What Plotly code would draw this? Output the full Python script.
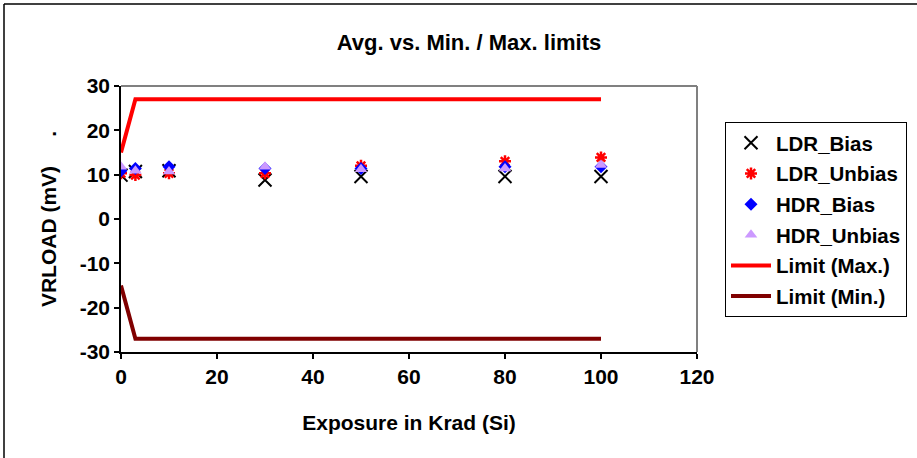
import plotly.graph_objects as go

exposure = [0, 3, 10, 30, 50, 80, 100]
ldr_bias = [9.9, 10.7, 10.9, 8.8, 9.6, 9.6, 9.6]
ldr_unbias = [10.3, 9.9, 10.3, 10.3, 12.0, 13.0, 13.9]
hdr_bias = [10.9, 11.4, 11.8, 11.4, 11.4, 11.8, 11.8]
hdr_unbias = [11.8, 10.9, 10.7, 11.8, 11.2, 11.4, 12.2]

limit_x = [0, 3, 10, 30, 50, 80, 100]
limit_max = [15, 27, 27, 27, 27, 27, 27]
limit_min = [-15, -27, -27, -27, -27, -27, -27]

x_ticks = [0, 20, 40, 60, 80, 100, 120]
y_ticks = [-30, -20, -10, 0, 10, 20, 30]

FONT = "Liberation Sans, Arial, sans-serif"

fig = go.Figure()
fig.add_trace(go.Scatter(x=exposure, y=ldr_bias, mode="markers", name="<b>LDR_Bias</b>",
                         legendgroup="a",
                         marker=dict(symbol="x-thin-open", size=13, color="black",
                                     line=dict(width=2, color="black"))))
fig.add_trace(go.Scatter(x=exposure, y=ldr_unbias, mode="markers", name="<b>LDR_Unbias</b>",
                         legendgroup="b",
                         marker=dict(symbol="asterisk-open", size=10, color="red",
                                     line=dict(width=2.5, color="red"))))
fig.add_trace(go.Scatter(x=exposure, y=hdr_bias, mode="markers", name="<b>HDR_Bias</b>",
                         legendgroup="c",
                         marker=dict(symbol="diamond", size=10, color="#0000FF")))
fig.add_trace(go.Scatter(x=exposure, y=hdr_unbias, mode="markers", name="<b>HDR_Unbias</b>",
                         legendgroup="d",
                         marker=dict(symbol="triangle-up", size=11, color="#CC99FF")))
fig.add_trace(go.Scatter(x=limit_x, y=limit_max, mode="lines", name="<b>Limit (Max.)</b>",
                         legendgroup="e",
                         line=dict(color="#FF0000", width=4)))
fig.add_trace(go.Scatter(x=limit_x, y=limit_min, mode="lines", name="<b>Limit (Min.)</b>",
                         legendgroup="f",
                         line=dict(color="#800000", width=4)))

W, H = 917, 458
L, R, T, B = 121, 697, 86, 352
pw, ph = R - L, B - T

def px(x):
    return (x - L) / pw

def py(y):
    return (B - y) / ph

fig.update_layout(
    width=W, height=H,
    margin=dict(l=L, r=W - R, t=T, b=H - B, pad=0, autoexpand=False),
    paper_bgcolor="white", plot_bgcolor="white",
    font=dict(family=FONT, size=21, color="black"),
    title=dict(text="<b>Avg. vs. Min. / Max. limits</b>", x=469 / W, xref="container",
               xanchor="center", y=1 - 42 / H, yref="container", yanchor="middle",
               font=dict(family=FONT, size=22, color="black")),
    showlegend=True,
    legend=dict(x=px(725), y=py(122), xanchor="left", yanchor="top",
                bordercolor="black", borderwidth=1, bgcolor="white",
                font=dict(family=FONT, size=20.5, color="black"),
                traceorder="grouped", tracegroupgap=1,
                itemwidth=40),
    xaxis=dict(range=[0, 120], tickvals=x_ticks,
               ticktext=["<b>%d</b>" % v for v in x_ticks],
               showgrid=False, zeroline=False, showline=True, linecolor="black",
               linewidth=1.5, ticks="outside", ticklen=5, tickcolor="black", tickwidth=1.5,
               tickfont=dict(family=FONT, size=21), automargin=False,
               title=dict(text="<b>Exposure in Krad (Si)</b>", standoff=28,
                          font=dict(family=FONT, size=21))),
    yaxis=dict(range=[-30, 30], tickvals=y_ticks,
               ticktext=["<b>%d</b>" % v for v in y_ticks],
               showgrid=False, zeroline=False, showline=True, linecolor="black",
               linewidth=1.5, ticks="outside", ticklen=5, tickcolor="black", tickwidth=1.5,
               tickfont=dict(family=FONT, size=21), automargin=False,
               title=dict(text="<b>VRLOAD (mV)     .</b>", standoff=17,
                          font=dict(family=FONT, size=21))),
    shapes=[
        dict(type="line", xref="paper", yref="paper", x0=0, x1=1, y0=1, y1=1,
             line=dict(color="#808080", width=2), layer="below"),
        dict(type="line", xref="paper", yref="paper", x0=1, x1=1, y0=0, y1=1,
             line=dict(color="#808080", width=2), layer="below"),
        dict(type="line", xref="paper", yref="paper", x0=px(4), x1=px(4), y0=py(4), y1=py(470),
             line=dict(color="black", width=1.5)),
        dict(type="line", xref="paper", yref="paper", x0=px(4), x1=px(930), y0=py(4), y1=py(4),
             line=dict(color="black", width=1.5)),
    ],
)

fig.write_html("out.html", config={"displayModeBar": False},
               post_script="document.body.style.margin='0px';document.body.style.padding='0px';")
